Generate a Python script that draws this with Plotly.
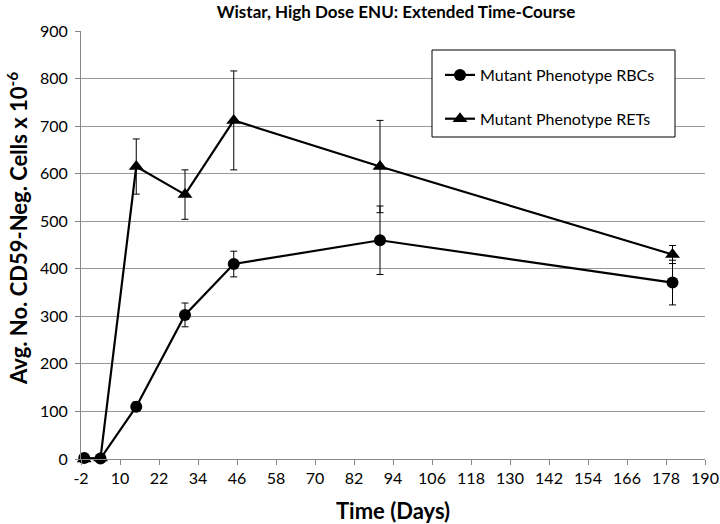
import plotly.graph_objects as go

days = [-1, 4, 15, 30, 45, 90, 180]
rbc_mean = [2, 1, 110, 303, 410, 460, 371]
rbc_err = [3, 3, 10, 25, 27, 72, 47]
ret_mean = [0, 2, 615, 556, 712, 615, 430]
ret_err = [3, 3, 58, 52, 104, 97, 19]

x_ticks = [-2, 10, 22, 34, 46, 58, 70, 82, 94, 106, 118, 130, 142, 154, 166, 178, 190]
x_tick_text = [str(v) for v in x_ticks]

title = "Wistar, High Dose ENU: Extended Time-Course"
x_title = "Time (Days)"
y_title = "Avg. No. CD59-Neg. Cells x 10<sup>-6</sup>"
series_names = ["Mutant Phenotype RBCs", "Mutant Phenotype RETs"]

FONT = "Lato, 'Open Sans', sans-serif"

W, H = 720, 524
ML, MR, MT, MB = 81, 15, 31, 65
PW, PH = W - ML - MR, H - MT - MB


def px(xp):  # page x pixel -> paper x
    return (xp - ML) / PW


def py(yp):  # page y pixel -> paper y
    return (H - MB - yp) / PH


fig = go.Figure()
fig.add_trace(go.Scatter(
    x=days, y=rbc_mean, name=series_names[0], mode="lines+markers",
    line=dict(color="black", width=2.2),
    marker=dict(symbol="circle", size=12, color="black"),
    error_y=dict(type="data", array=rbc_err, visible=True, color="black", thickness=1, width=3.5),
    cliponaxis=False, legendgroup="a",
))
fig.add_trace(go.Scatter(
    x=days, y=ret_mean, name=series_names[1], mode="lines+markers",
    line=dict(color="black", width=2.2),
    marker=dict(symbol="triangle-up", size=13, color="black"),
    error_y=dict(type="data", array=ret_err, visible=True, color="black", thickness=1, width=3.5),
    cliponaxis=False, legendgroup="b",
))

fig.add_shape(type="rect", xref="paper", yref="paper",
              x0=px(432), x1=px(675), y0=py(137), y1=py(50),
              line=dict(color="black", width=1), fillcolor="white", layer="above")

fig.add_annotation(text="<b>" + x_title + "</b>", xref="paper", yref="paper",
                   x=px(393), y=py(510), showarrow=False, xanchor="center", yanchor="middle",
                   font=dict(size=22, family=FONT, color="black"))
fig.add_annotation(text="<b>" + y_title + "</b>", xref="paper", yref="paper",
                   x=px(17), y=py(229), showarrow=False, xanchor="center", yanchor="middle",
                   textangle=-90, font=dict(size=22, family=FONT, color="black"))

fig.update_layout(
    width=W, height=H,
    margin=dict(l=ML, r=MR, t=MT, b=MB, autoexpand=False),
    paper_bgcolor="white", plot_bgcolor="white",
    font=dict(family=FONT, color="black", size=16),
    title=dict(text="<b>" + title + "</b>", x=396 / W, xanchor="center",
               y=1 - 12 / H, yanchor="middle",
               font=dict(size=17, family=FONT, color="black")),
    showlegend=True,
    legend=dict(x=px(440), y=py(58), xanchor="left", yanchor="top",
                bgcolor="rgba(0,0,0,0)", borderwidth=0,
                font=dict(size=16, family=FONT, color="black"),
                tracegroupgap=20, itemwidth=30),
)
fig.update_xaxes(
    range=[-2, 190], tickmode="array", tickvals=x_ticks, ticktext=x_tick_text, showgrid=False,
    showline=True, linecolor="#888888", linewidth=1,
    ticks="outside", tickcolor="#888888", ticklen=5,
    tickfont=dict(size=16, color="black"),
    zeroline=False, automargin=False,
)
fig.update_yaxes(
    range=[0, 900], dtick=100, showgrid=True, gridcolor="#999999", gridwidth=1,
    showline=True, linecolor="#888888", linewidth=1,
    ticks="outside", tickcolor="#888888", ticklen=5, ticklabelstandoff=4,
    tickfont=dict(size=16, color="black"),
    zeroline=False, automargin=False,
)

fig.write_html("out.html", config={"displayModeBar": False},
               post_script="document.body.style.margin='0';")
